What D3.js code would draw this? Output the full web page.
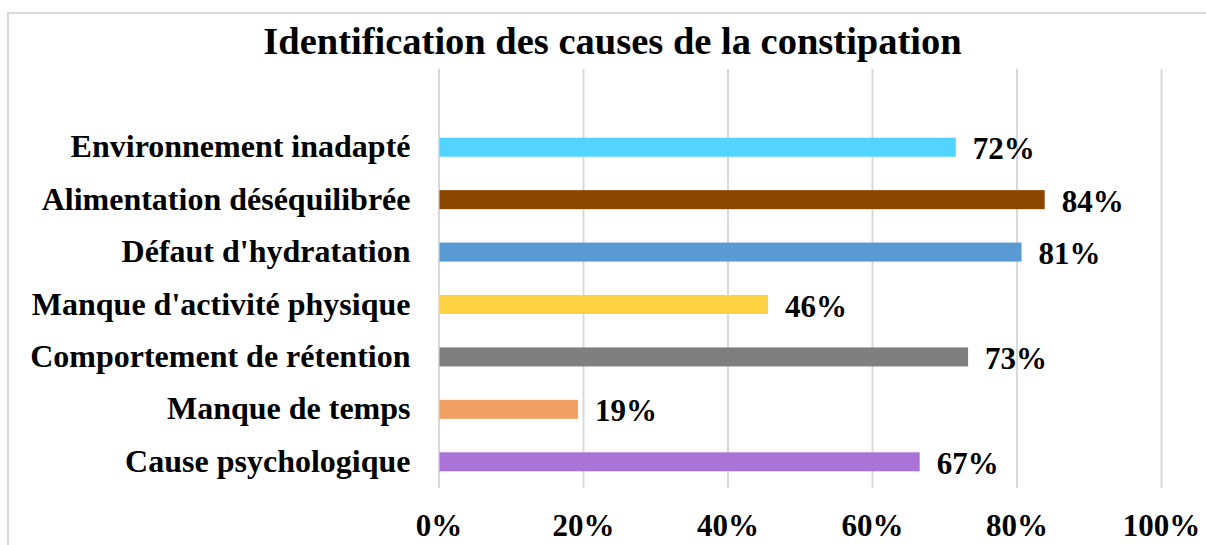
<!DOCTYPE html>
<html>
<head>
<meta charset="utf-8">
<script src="https://cdn.jsdelivr.net/npm/d3@7"></script>
<style>
  html, body { margin: 0; padding: 0; background: #fff; }
  svg { display: block; }
  text { font-family: "Liberation Serif", "Times New Roman", serif; font-weight: bold; fill: #000; }
</style>
</head>
<body>
<svg width="1206" height="545"></svg>
<script>
const svg_ = d3.select('svg');

const W = 1206;
const H = 545;

// data, top to bottom
const causes = [
    "Environnement inadapté",
    "Alimentation déséquilibrée",
    "Défaut d'hydratation",
    "Manque d'activité physique",
    "Comportement de rétention",
    "Manque de temps",
    "Cause psychologique"
];
const valeurs = [0.716, 0.839, 0.807, 0.456, 0.733, 0.193, 0.666];
const couleurs = ["#53d3ff", "#8b4600", "#5b9bd5", "#ffd243", "#7f7f7f", "#f1a065", "#a974d6"];
const ticks = [0, 0.2, 0.4, 0.6, 0.8, 1];

const DIMS = {
    LEFT: 438.5,
    RIGHT: 1161,
    GRID_TOP: 69,
    BAND_TOP: 121,
    BOTTOM: 488
};

const rows = causes.map((c, i) => ({ cause: c, value: valeurs[i], color: couleurs[i] }));

const x = d3.scaleLinear()
    .domain([0, 1])
    .range([DIMS.LEFT, DIMS.RIGHT]);

const y = d3.scaleBand()
    .domain(causes)
    .range([DIMS.BAND_TOP, DIMS.BOTTOM])
    .paddingInner(0.637)
    .paddingOuter(0.3185);

// cadre
svg_.append("rect")
    .attr("x", 8)
    .attr("y", 13)
    .attr("width", W + 50)
    .attr("height", H + 50)
    .attr("fill", "none")
    .attr("stroke", "#d9d9d9")
    .attr("stroke-width", 2);

// titre
svg_.append("text")
    .attr("x", 612.5)
    .attr("y", 54)
    .attr("text-anchor", "middle")
    .style("font-size", "38.5px")
    .text("Identification des causes de la constipation");

// axe x + grille
const axis = svg_.append("g")
    .attr("transform", `translate(0, ${DIMS.BOTTOM})`)
    .call(d3.axisBottom(x)
        .tickValues(ticks)
        .tickSize(-(DIMS.BOTTOM - DIMS.GRID_TOP))
        .tickFormat(d3.format(".0%")));

axis.select(".domain").remove();
axis.selectAll(".tick line")
    .attr("stroke", "#d9d9d9")
    .attr("stroke-width", 2);
axis.selectAll(".tick text")
    .attr("y", 48)
    .attr("dy", null)
    .attr("font-family", null)
    .attr("font-size", null)
    .style("font-size", "31px");

// barres
svg_.append("g")
    .selectAll("rect")
    .data(rows)
    .join("rect")
    .attr("x", x(0) + 1)
    .attr("y", d => y(d.cause))
    .attr("width", d => x(d.value) - x(0) - 1)
    .attr("height", y.bandwidth())
    .attr("fill", d => d.color);

// étiquettes des catégories
svg_.append("g")
    .selectAll("text")
    .data(rows)
    .join("text")
    .attr("x", x(0) - 28)
    .attr("y", d => y(d.cause) + y.bandwidth() / 2 + 10)
    .attr("text-anchor", "end")
    .style("font-size", "32px")
    .text(d => d.cause);

// valeurs
svg_.append("g")
    .selectAll("text")
    .data(rows)
    .join("text")
    .attr("x", d => x(d.value) + 17)
    .attr("y", d => y(d.cause) + y.bandwidth() / 2 + 12)
    .style("font-size", "31px")
    .text(d => d3.format(".0%")(d.value));
</script>
</body>
</html>
